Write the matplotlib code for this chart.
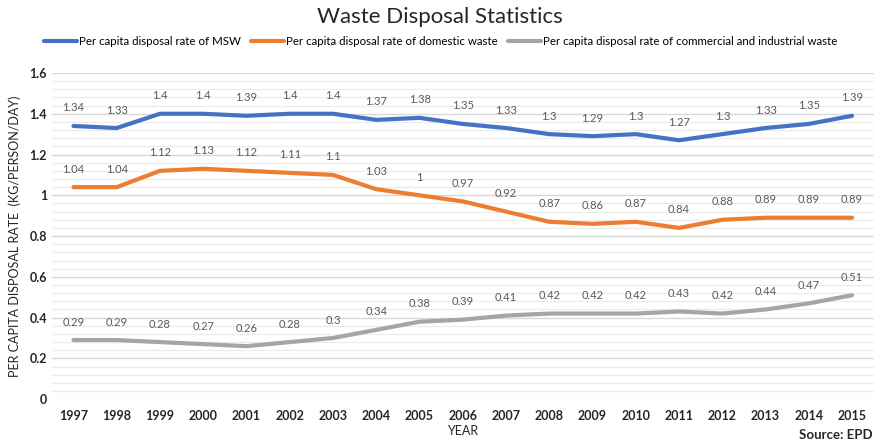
import matplotlib
matplotlib.use('Agg')
import matplotlib.pyplot as plt
from matplotlib.ticker import MultipleLocator

years = [str(y) for y in range(1997, 2016)]
msw = [1.34, 1.33, 1.4, 1.4, 1.39, 1.4, 1.4, 1.37, 1.38, 1.35, 1.33, 1.3, 1.29, 1.3, 1.27, 1.3, 1.33, 1.35, 1.39]
domestic = [1.04, 1.04, 1.12, 1.13, 1.12, 1.11, 1.1, 1.03, 1, 0.97, 0.92, 0.87, 0.86, 0.87, 0.84, 0.88, 0.89, 0.89, 0.89]
commercial = [0.29, 0.29, 0.28, 0.27, 0.26, 0.28, 0.3, 0.34, 0.38, 0.39, 0.41, 0.42, 0.42, 0.42, 0.43, 0.42, 0.44, 0.47, 0.51]

series = [
    ('Per capita disposal rate of MSW', msw, '#4472C4'),
    ('Per capita disposal rate of domestic waste', domestic, '#ED7D31'),
    ('Per capita disposal rate of commercial and industrial waste', commercial, '#A5A5A5'),
]

plt.rcParams['font.family'] = ['Lato', 'DejaVu Sans']

fig = plt.figure(figsize=(8.79, 4.45), dpi=100)
ax = fig.add_axes([0.059, 0.103, 0.935, 0.733])

x = list(range(len(years)))
for label, vals, color in series:
    ax.plot(x, vals, color=color, lw=3, label=label, solid_capstyle='round')
    for xi, v in zip(x, vals):
        ax.annotate('%g' % v, (xi, v), xytext=(0, 9), textcoords='offset points',
                    ha='center', va='bottom', fontsize=8, color='#595959')

ax.set_xlim(-0.5, len(years) - 0.5)
ax.set_ylim(0, 1.6)
ax.set_xticks(x)
ax.set_xticklabels(years)
ax.yaxis.set_minor_locator(MultipleLocator(0.04))
ax.set_yticks([0, 0.2, 0.4, 0.6, 0.8, 1.0, 1.2, 1.4, 1.6])
ax.set_yticklabels(['0', '0.2', '0.4', '0.6', '0.8', '1', '1.2', '1.4', '1.6'])
ax.grid(axis='y', which='major', color='#D9D9D9', lw=1)
ax.grid(axis='y', which='minor', color='#EBEBEB', lw=0.8)
ax.set_axisbelow(True)
for s in ax.spines.values():
    s.set_visible(False)
ax.tick_params(axis='both', which='both', length=0, labelsize=9, labelcolor='#262626')
ax.tick_params(axis='x', pad=8)
for t in ax.get_xticklabels() + ax.get_yticklabels():
    t.set_fontweight('bold')

ax.set_ylabel('PER CAPITA DISPOSAL RATE  (KG/PERSON/DAY)', fontsize=9, color='#262626', labelpad=6)
ax.set_xlabel('YEAR', fontsize=9, color='#262626', labelpad=2)

fig.text(0.5, 0.962, 'Waste Disposal Statistics', ha='center', va='center', fontsize=16, color='#262626')
ax.legend(loc='center', bbox_to_anchor=(0.473, 1.095), ncol=3, frameon=False, fontsize=8.3,
          handlelength=2.9, handletextpad=0.15, columnspacing=0.85)
fig.text(0.993, 0.022, 'Source: EPD', ha='right', va='center', fontsize=9.5, fontweight='bold', color='#262626')

fig.savefig('out.png', dpi=100)
